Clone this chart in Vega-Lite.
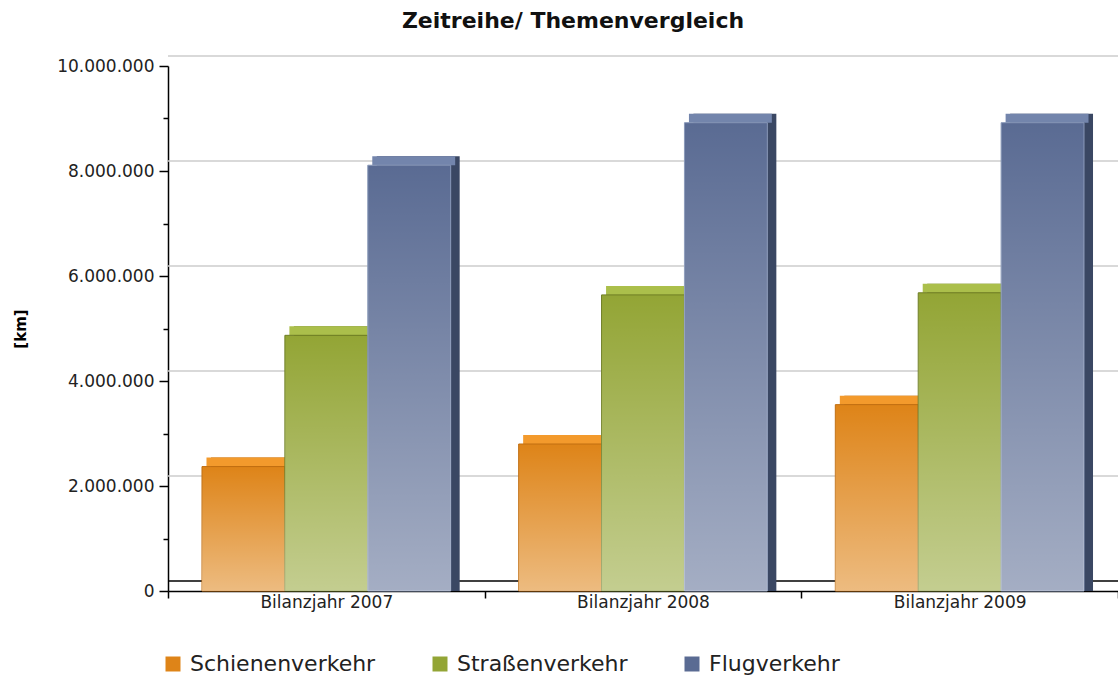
{
  "$schema": "https://vega.github.io/schema/vega-lite/v6.json",
  "autosize": "none",
  "width": 950,
  "height": 525,
  "padding": {"left": 168, "top": 66, "right": 0, "bottom": 84},
  "background": "white",
  "config": {"view": {"stroke": null}},
  "title": {
    "text": "Zeitreihe/ Themenvergleich",
    "font": "DejaVu Sans",
    "fontSize": 22,
    "fontWeight": "bold",
    "color": "#111",
    "anchor": "middle",
    "frame": "group",
    "dx": -70,
    "offset": 22
  },
  "datasets": {
    "bars": [
      {"jahr": "Bilanzjahr 2007", "art": "Schienenverkehr", "km": 2370000},
      {"jahr": "Bilanzjahr 2007", "art": "Straßenverkehr", "km": 4870000},
      {"jahr": "Bilanzjahr 2007", "art": "Flugverkehr", "km": 8110000},
      {"jahr": "Bilanzjahr 2008", "art": "Schienenverkehr", "km": 2800000},
      {"jahr": "Bilanzjahr 2008", "art": "Straßenverkehr", "km": 5640000},
      {"jahr": "Bilanzjahr 2008", "art": "Flugverkehr", "km": 8920000},
      {"jahr": "Bilanzjahr 2009", "art": "Schienenverkehr", "km": 3550000},
      {"jahr": "Bilanzjahr 2009", "art": "Straßenverkehr", "km": 5680000},
      {"jahr": "Bilanzjahr 2009", "art": "Flugverkehr", "km": 8920000}
    ],
    "grid": [
      {"g": 0, "c": "floor"}, {"g": 2000000, "c": "grid"}, {"g": 4000000, "c": "grid"}, {"g": 6000000, "c": "grid"}, {"g": 8000000, "c": "grid"}, {"g": 10000000, "c": "grid"}
    ]
  },
  "resolve": {"scale": {"xOffset": "independent", "color": "independent"}},
  "layer": [
    {
      "data": {"name": "grid"},
      "mark": {"type": "rule", "strokeWidth": 1.5, "xOffset": 8, "yOffset": -10},
      "encoding": {
        "y": {"field": "g", "type": "quantitative", "scale": {"domain": [0, 10000000]}},
        "color": {"field": "c", "type": "nominal", "legend": null,
          "scale": {"domain": ["floor", "grid"], "range": ["#000000", "#cccccc"]}}
      }
    },
    {
      "data": {"name": "bars"},
      "mark": {"type": "bar", "opacity": 1, "yOffset": -9, "y2Offset": -9},
      "encoding": {
        "x": {"field": "jahr", "type": "nominal"},
        "xOffset": {"field": "art", "type": "nominal",
          "scale": {"domain": ["Schienenverkehr", "Straßenverkehr", "Flugverkehr"], "range": [9, 325.667], "paddingInner": 0, "paddingOuter": 0.41}},
        "y": {"field": "km", "type": "quantitative", "stack": null},
        "color": {
          "field": "art", "type": "nominal", "legend": null,
          "scale": {"domain": ["Schienenverkehr", "Straßenverkehr", "Flugverkehr"], "range": ["#ad6210", "#6d7c25", "#3a4763"]}
        }
      }
    },
    {
      "data": {"name": "bars"},
      "mark": {"type": "bar", "opacity": 1, "y2Offset": -9},
      "encoding": {
        "x": {"field": "jahr", "type": "nominal"},
        "xOffset": {"field": "art", "type": "nominal",
          "scale": {"domain": ["Schienenverkehr", "Straßenverkehr", "Flugverkehr"], "range": [4.5, 321.167], "paddingInner": 0, "paddingOuter": 0.41}},
        "y": {"field": "km", "type": "quantitative", "stack": null},
        "y2": {"field": "km"},
        "color": {
          "field": "art", "type": "nominal", "legend": null,
          "scale": {"domain": ["Schienenverkehr", "Straßenverkehr", "Flugverkehr"], "range": ["#f39a2c", "#abbf4b", "#7385ac"]}
        }
      }
    },
    {
      "data": {"name": "bars"},
      "mark": {"type": "bar", "opacity": 1, "strokeWidth": 1},
      "encoding": {
        "x": {
          "field": "jahr", "type": "nominal",
          "scale": {"paddingInner": 0, "paddingOuter": 0},
          "axis": {
            "title": null, "labelAngle": 0, "labelAlign": "center", "labelFont": "DejaVu Sans", "labelFontSize": 17,
            "labelColor": "#222", "tickBand": "extent", "tickSize": 7, "tickColor": "#000",
            "domainColor": "#000", "domainWidth": 1.5, "tickWidth": 1.5, "labelPadding": 4
          }
        },
        "xOffset": {
          "field": "art", "type": "nominal",
          "scale": {"domain": ["Schienenverkehr", "Straßenverkehr", "Flugverkehr"], "range": [0, 316.667], "paddingInner": 0, "paddingOuter": 0.41}
        },
        "y": {
          "field": "km", "type": "quantitative", "stack": null,
          "scale": {"domain": [0, 10000000], "nice": false},
          "axis": {
            "title": "[km]", "titleFont": "DejaVu Sans", "titleFontSize": 15, "titleFontWeight": "bold",
            "titleColor": "#000", "titlePadding": 28,
            "values": [0, 1000000, 2000000, 3000000, 4000000, 5000000, 6000000, 7000000, 8000000, 9000000, 10000000],
            "labelExpr": "datum.value % 2000000 == 0 ? replace(format(datum.value, ',d'), /,/g, '.') : ''",
            "labelFont": "DejaVu Sans", "labelFontSize": 17, "labelColor": "#222", "labelPadding": 5,
            "tickSize": {"condition": {"test": "datum.value % 2000000 == 0", "value": 9}, "value": 5},
            "tickColor": "#000", "tickWidth": 1.5, "domainColor": "#000", "domainWidth": 1.5,
            "grid": false
          }
        },
        "color": {
          "field": "art", "type": "nominal",
          "scale": {"domain": ["Schienenverkehr", "Straßenverkehr", "Flugverkehr"], "range": ["#de8418", "#93a535", "#5a6b93"]},
          "legend": {
            "title": null, "orient": "none", "direction": "horizontal", "legendX": -6, "legendY": 587,
            "symbolType": "square", "symbolSize": 225, "symbolStrokeWidth": 0, "symbolOpacity": 1,
            "labelFont": "DejaVu Sans", "labelFontSize": 22, "labelColor": "#222", "labelOffset": 6,
            "columnPadding": 53, "padding": 0, "labelLimit": 400
          }
        },
        "stroke": {
          "field": "art", "type": "nominal", "legend": null,
          "scale": {"domain": ["Schienenverkehr", "Straßenverkehr", "Flugverkehr"], "range": ["#c06e10", "#6e7d24", "#8898b8"]}
        }
      }
    },
    {
      "data": {"name": "bars"},
      "mark": {"type": "bar", "opacity": 1,
        "fill": {"gradient": "linear", "x1": 0, "y1": 0, "x2": 0, "y2": 1,
          "stops": [{"offset": 0, "color": "rgba(255,255,255,0)"}, {"offset": 1, "color": "rgba(255,255,255,0.45)"}]}},
      "encoding": {
        "x": {"field": "jahr", "type": "nominal"},
        "xOffset": {"field": "art", "type": "nominal",
          "scale": {"domain": ["Schienenverkehr", "Straßenverkehr", "Flugverkehr"], "range": [0, 316.667], "paddingInner": 0, "paddingOuter": 0.41}},
        "y": {"field": "km", "type": "quantitative", "stack": null}
      }
    }
  ]
}
